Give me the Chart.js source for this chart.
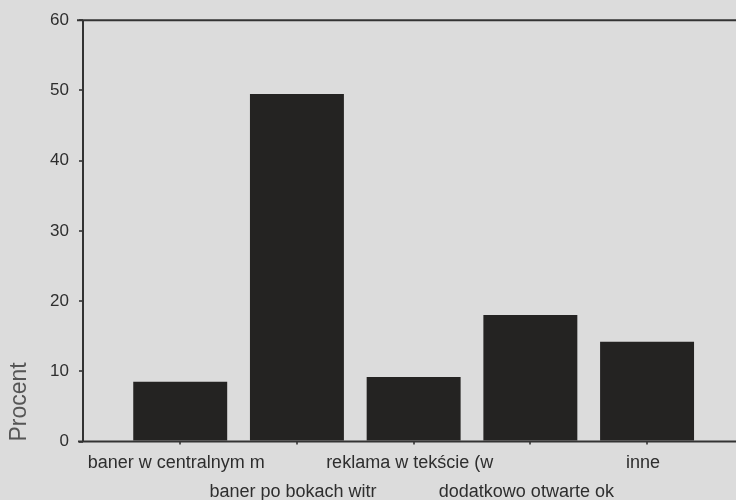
<!DOCTYPE html>
<html>
<head>
<meta charset="utf-8">
<script src="https://cdn.jsdelivr.net/npm/chart.js@4/dist/chart.umd.min.js"></script>
<style>
  html, body { margin: 0; padding: 0; background: #dcdcdc; overflow: hidden; }
  #wrap { width: 736px; height: 500px; }
</style>
</head>
<body>
<div id="wrap"><canvas id="c" width="736" height="500"></canvas></div>
<script>
// Categories (labels are truncated as in the source table)
const categories = [
  'baner w centralnym m',
  'baner po bokach witr',
  'reklama w tekście (w',
  'dodatkowo otwarte ok',
  'inne'
];
// Share of answers, %
const percent = [8.5, 49.5, 9.2, 18.0, 14.2];
// Value axis ticks
const yTicks = [0, 10, 20, 30, 40, 50, 60];

const FONT = '"Liberation Sans", Arial, sans-serif';
const INK = '#2e2e2e';

// Frame: top, left and bottom rules of the plot area
const framePlugin = {
  id: 'frame',
  afterDraw(chart) {
    const { ctx, chartArea } = chart;
    const y = chart.scales.y;
    const top = y.getPixelForValue(yTicks[yTicks.length - 1]);
    const bottom = y.getPixelForValue(yTicks[0]);
    ctx.save();
    ctx.strokeStyle = '#333';
    ctx.lineWidth = 2;
    ctx.beginPath();
    ctx.moveTo(chartArea.left - 6, top);
    ctx.lineTo(chart.width, top);
    ctx.moveTo(chartArea.left, top);
    ctx.lineTo(chartArea.left, bottom);
    ctx.moveTo(chartArea.left - 5, bottom);
    ctx.lineTo(chart.width, bottom);
    ctx.stroke();
    ctx.restore();
  }
};

new Chart(document.getElementById('c'), {
  type: 'bar',
  data: {
    datasets: [{
      data: categories.map((c, i) => ({ x: i, y: percent[i] })),
      backgroundColor: '#242322',
      borderWidth: 0,
      categoryPercentage: 1,
      barPercentage: 0.805
    }]
  },
  options: {
    responsive: false,
    animation: false,
    layout: { padding: { top: 19, left: 0, right: 0, bottom: 0 } },
    plugins: {
      legend: { display: false },
      tooltip: { enabled: false }
    },
    scales: {
      x: {
        type: 'linear',
        min: -0.833,
        max: 4.762,
        offset: false,
        afterBuildTicks: s => { s.ticks = categories.map((c, i) => ({ value: i })); },
        afterFit: s => { s.height = 58.5; },
        border: { display: false },
        grid: { drawOnChartArea: false, offset: false, tickLength: 3, color: '#555', lineWidth: 2 },
        ticks: {
          autoSkip: false,
          maxRotation: 0,
          minRotation: 0,
          padding: 4,
          labelOffset: -4,
          color: INK,
          font: { family: FONT, size: 18, lineHeight: '29px' },
          callback: v => {
            const i = Math.round(v);
            const name = categories[i];
            return i % 2 === 1 ? ['', name] : name;
          }
        }
      },
      y: {
        min: 0,
        max: 60,
        afterBuildTicks: s => { s.ticks = yTicks.map(v => ({ value: v })); },
        afterFit: s => { s.width = 83; },
        border: { display: false },
        grid: { drawOnChartArea: false, tickLength: 4, color: '#555', lineWidth: 2 },
        ticks: {
          padding: 10,
          color: INK,
          font: { family: FONT, size: 17 }
        },
        title: {
          display: true,
          text: 'Procent',
          align: 'start',
          color: '#555',
          padding: { top: 6, bottom: 0 },
          font: { family: FONT, size: 23 }
        }
      }
    }
  },
  plugins: [framePlugin]
});
</script>
</body>
</html>
